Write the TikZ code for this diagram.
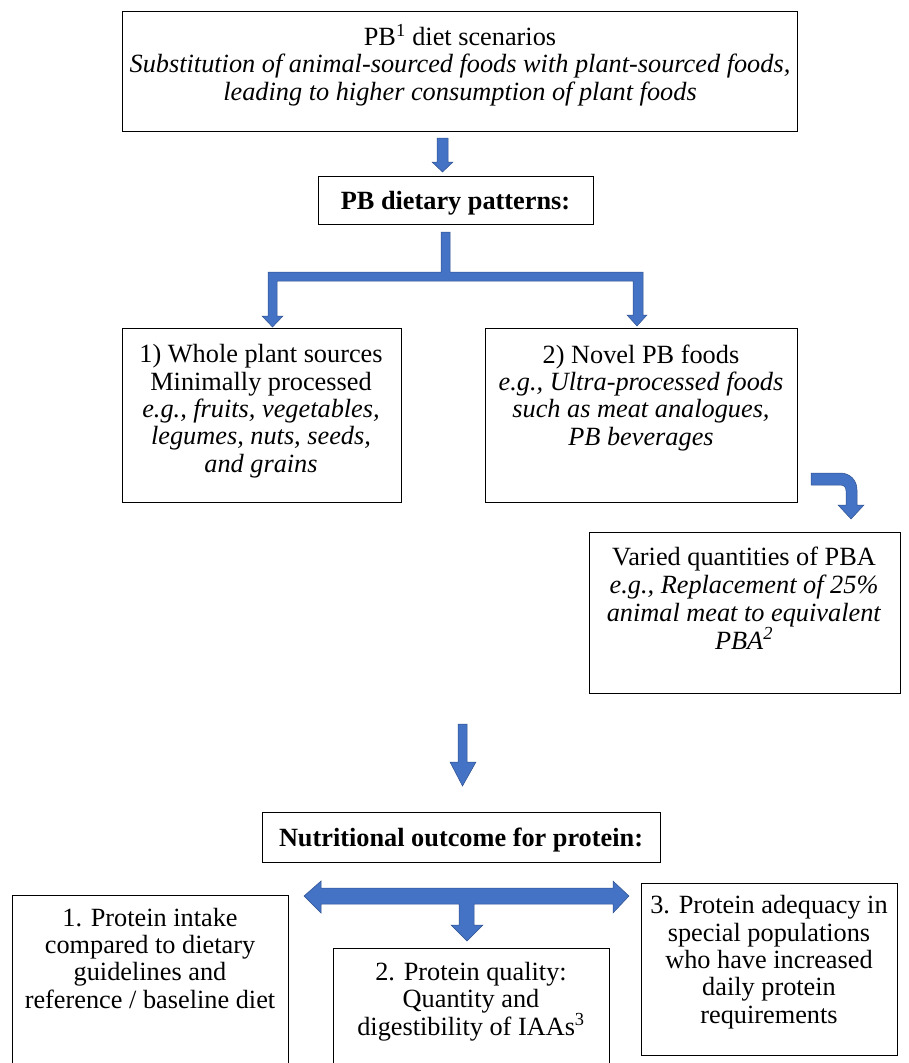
\documentclass[tikz,border=0pt]{standalone}
\usepackage{fontspec}
\setmainfont{Liberation Serif}
\usetikzlibrary{fit}
\definecolor{arrowblue}{RGB}{68,114,196}
\definecolor{arrowedge}{RGB}{47,82,143}
\tikzset{
  box/.style={draw=black, line width=0.9pt, inner sep=0pt, fill=none},
  txt/.style={align=center, inner sep=0pt, anchor=base, font=\fontsize{26.3}{27.3}\selectfont},
  blk/.style={fill=arrowblue, draw=arrowedge, line width=0.5pt, line join=miter}
}
\begin{document}
\begin{tikzpicture}[x=1pt,y=-1pt]
\useasboundingbox (0,0) rectangle (909,1063);
\clip (0,0) rectangle (909,1063);
% boxes
\node[box, fit={(122,11) (797,131)}] (b1) {};
\node[box, fit={(318,176) (593,224)}] (b2) {};
\node[box, fit={(122,328) (401,502)}] (b3) {};
\node[box, fit={(485,328) (797,502)}] (b4) {};
\node[box, fit={(589,532) (900,693)}] (b5) {};
\node[box, fit={(262,812) (660,862)}] (b6) {};
\node[box, fit={(12,895) (288,1080)}] (b7) {};
\node[box, fit={(333,948) (609,1080)}] (b8) {};
\node[box, fit={(641,883) (897,1055)}] (b9) {};
% texts (anchor base = baseline of last line)
\node[txt] (t1) at (460,100) {PB\textsuperscript{1} diet scenarios\\
  \textit{Substitution of animal-sourced foods with plant-sourced foods,}\\
  \textit{leading to higher consumption of plant foods}};
\node[txt] (t2) at (455.5,209) {\textbf{PB dietary patterns:}};
\node[txt] (t3) at (261,472) {1) Whole plant sources\\ Minimally processed\\
  \textit{e.g., fruits, vegetables,}\\ \textit{legumes, nuts, seeds,}\\ \textit{and grains}};
\node[txt] (t4) at (641,445) {2) Novel PB foods\\
  \textit{e.g., Ultra-processed foods}\\ \textit{such as meat analogues,}\\ \textit{PB beverages}};
\node[txt, font=\fontsize{26.3}{28}\selectfont] (t5) at (744,649) {Varied quantities of PBA\\
  \textit{e.g., Replacement of 25\%}\\ \textit{animal meat to equivalent}\\ \textit{PBA\textsuperscript{2}}};
\node[txt] (t6) at (461,846) {\textbf{Nutritional outcome for protein:}};
\node[txt] (t7) at (150,1008) {1. Protein intake\\ compared to dietary\\ guidelines and\\ reference / baseline diet};
\node[txt] (t8) at (471,1035) {2. Protein quality:\\ Quantity and\\ digestibility of IAAs\textsuperscript{3}};
\node[txt] (t9) at (769,1023) {3. Protein adequacy in\\ special populations\\ who have increased\\ daily protein\\ requirements};
% arrow b1 -> b2
\draw[blk] (437,138) -- (448,138) -- (448,162) -- (453,162) -- (442.5,172) -- (432,162) -- (437,162) -- cycle;
% tree connector b2 -> b3, b4
\draw[blk] (441,232) -- (450,232) -- (450,272) -- (643,272) -- (643,315) -- (647,315) -- (637,326)
  -- (627,315) -- (633,315) -- (633,281) -- (277,281) -- (277,316) -- (283,316) -- (272.5,327)
  -- (262,316) -- (268,316) -- (268,272) -- (441,272) -- cycle;
% curved arrow b4 -> b5
\draw[blk] (811,473) -- (840,473) .. controls (850,473) and (857,480) .. (857,490) -- (857,505)
  -- (864,505) -- (851,519) -- (838,505) -- (846,505) -- (846,491)
  .. controls (846,487) and (844,485) .. (840,485) -- (811,485) -- cycle;
% big down arrow
\draw[blk] (458,724) -- (467,724) -- (467,762) -- (476,762) -- (462.5,786) -- (450,762) -- (458,762) -- cycle;
% double arrow with down stem
\draw[blk] (304,896) -- (321,881) -- (321,888) -- (613,888) -- (613,881) -- (629,896) -- (613,913)
  -- (613,904) -- (474,904) -- (474,925) -- (483,925) -- (467,941) -- (451,925) -- (459,925)
  -- (459,904) -- (321,904) -- (321,913) -- cycle;
\end{tikzpicture}
\end{document}
